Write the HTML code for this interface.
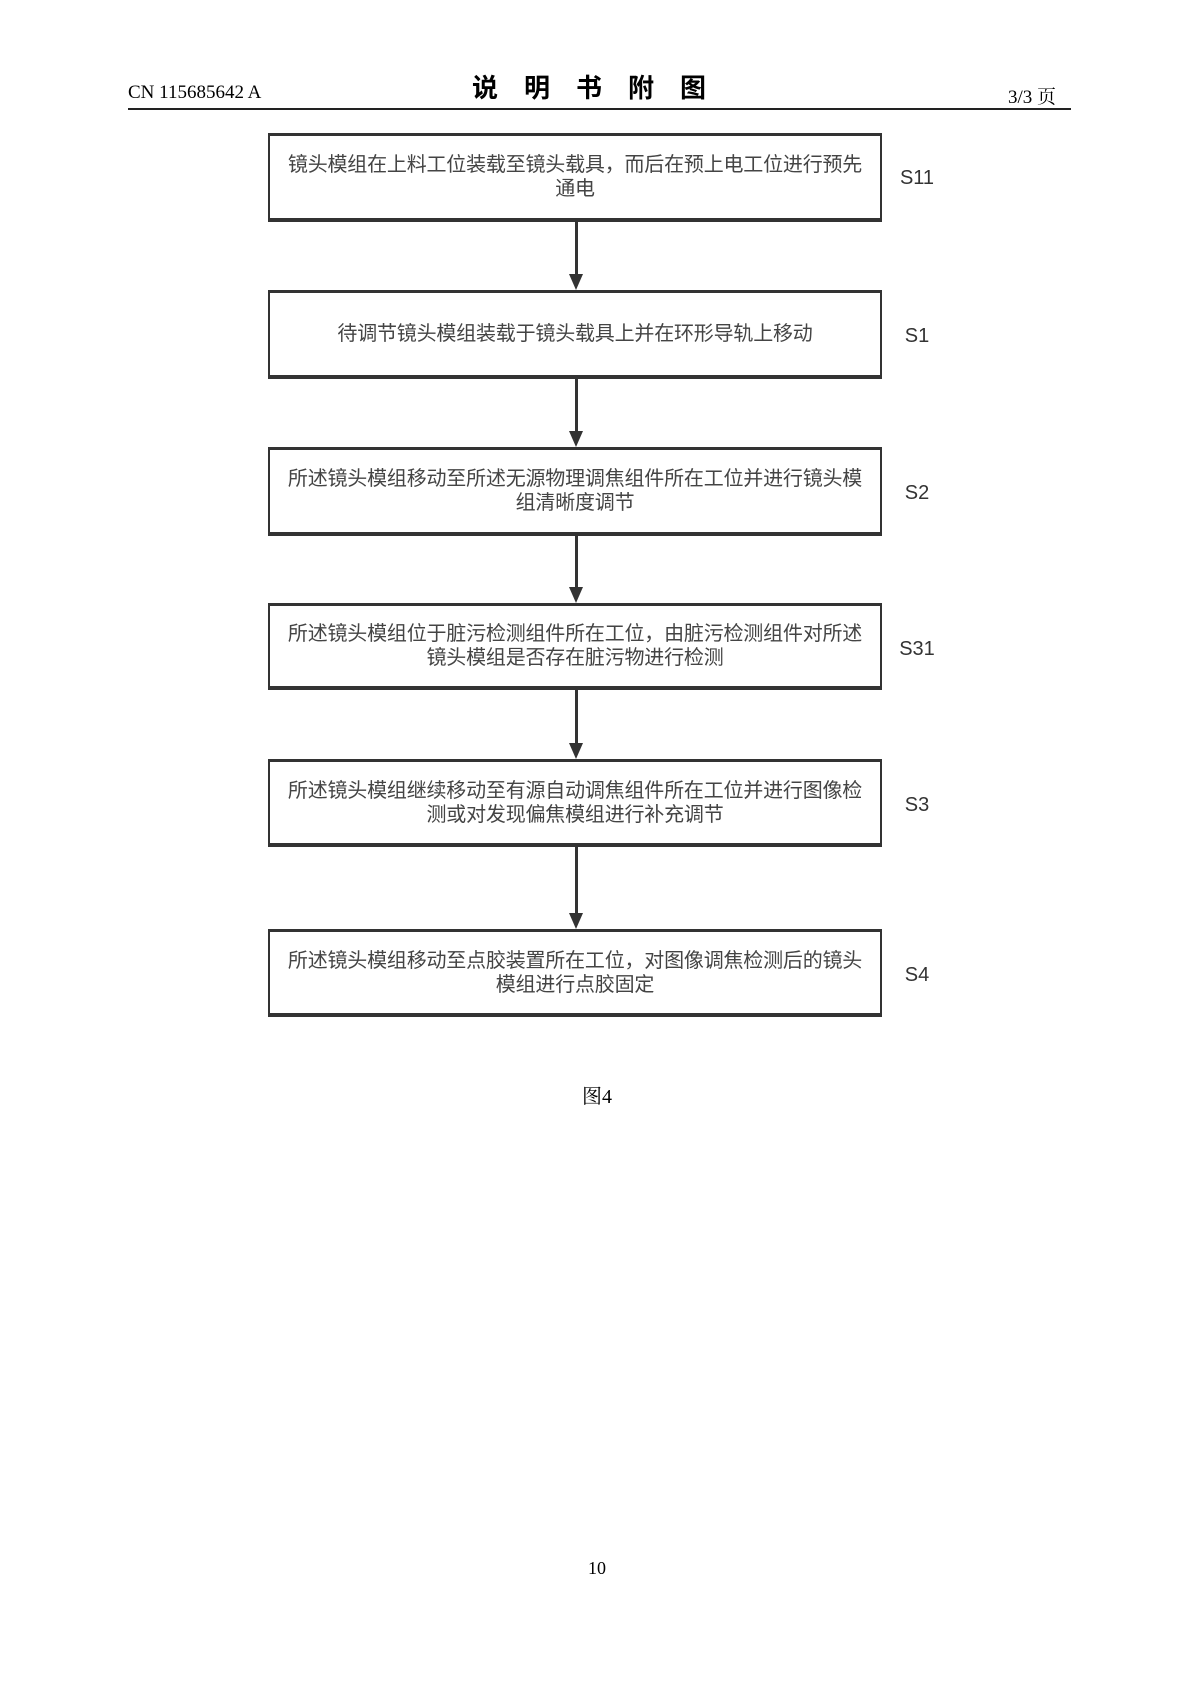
<!DOCTYPE html>
<html><head><meta charset="utf-8"><style>
body{margin:0;background:#fff;}
.pg{position:relative;width:1190px;height:1684px;font-family:"Liberation Serif","Noto Serif CJK SC",serif;}
.t{position:absolute;white-space:nowrap;}
.box{position:absolute;left:268px;width:614px;border:2px solid #333;border-bottom:4px solid #333;border-top:3px solid #333;box-sizing:border-box;display:flex;align-items:center;justify-content:center;text-align:center;font-family:"Liberation Sans","Noto Sans CJK SC",sans-serif;font-size:20px;line-height:24px;color:#444;padding:0 13px;letter-spacing:-0.2px;}
.lab{position:absolute;left:894px;width:46px;text-align:center;font-family:"Liberation Sans","Noto Sans CJK SC",sans-serif;font-size:20px;color:#333;}
.ln{position:absolute;left:575px;width:3px;background:#333;}
.ah{position:absolute;left:569px;width:0;height:0;border-left:7.5px solid transparent;border-right:7.5px solid transparent;border-top:16px solid #333;}
</style></head><body><div class="pg">
<div class="t" style="left:128px;top:82px;font-size:19px;">CN 115685642 A</div>
<div class="t" style="left:472px;top:68px;font-size:26px;font-weight:bold;letter-spacing:26px;font-family:'Liberation Sans','Noto Sans CJK SC',sans-serif;">说明书附图</div>
<div class="t" style="left:1008px;top:82px;font-size:19px;">3/3 页</div>
<div style="position:absolute;left:128px;top:108px;width:943px;height:2px;background:#222;"></div>

<div class="box" style="top:133px;height:89px;">镜头模组在上料工位装载至镜头载具，而后在预上电工位进行预先通电</div>
<div class="lab" style="top:167px;">S11</div>
<div class="ln" style="top:222px;height:52px;"></div><div class="ah" style="top:274px;"></div>

<div class="box" style="top:290px;height:89px;">待调节镜头模组装载于镜头载具上并在环形导轨上移动</div>
<div class="lab" style="top:325px;">S1</div>
<div class="ln" style="top:379px;height:52px;"></div><div class="ah" style="top:431px;"></div>

<div class="box" style="top:447px;height:89px;">所述镜头模组移动至所述无源物理调焦组件所在工位并进行镜头模组清晰度调节</div>
<div class="lab" style="top:482px;">S2</div>
<div class="ln" style="top:536px;height:51px;"></div><div class="ah" style="top:587px;"></div>

<div class="box" style="top:603px;height:87px;">所述镜头模组位于脏污检测组件所在工位，由脏污检测组件对所述镜头模组是否存在脏污物进行检测</div>
<div class="lab" style="top:638px;">S31</div>
<div class="ln" style="top:690px;height:53px;"></div><div class="ah" style="top:743px;"></div>

<div class="box" style="top:759px;height:88px;">所述镜头模组继续移动至有源自动调焦组件所在工位并进行图像检测或对发现偏焦模组进行补充调节</div>
<div class="lab" style="top:794px;">S3</div>
<div class="ln" style="top:847px;height:66px;"></div><div class="ah" style="top:913px;"></div>

<div class="box" style="top:929px;height:88px;">所述镜头模组移动至点胶装置所在工位，对图像调焦检测后的镜头模组进行点胶固定</div>
<div class="lab" style="top:964px;">S4</div>

<div class="t" style="left:582px;top:1080px;font-size:20px;">图4</div>
<div class="t" style="left:588px;top:1558px;font-size:18px;">10</div>
</div></body></html>
